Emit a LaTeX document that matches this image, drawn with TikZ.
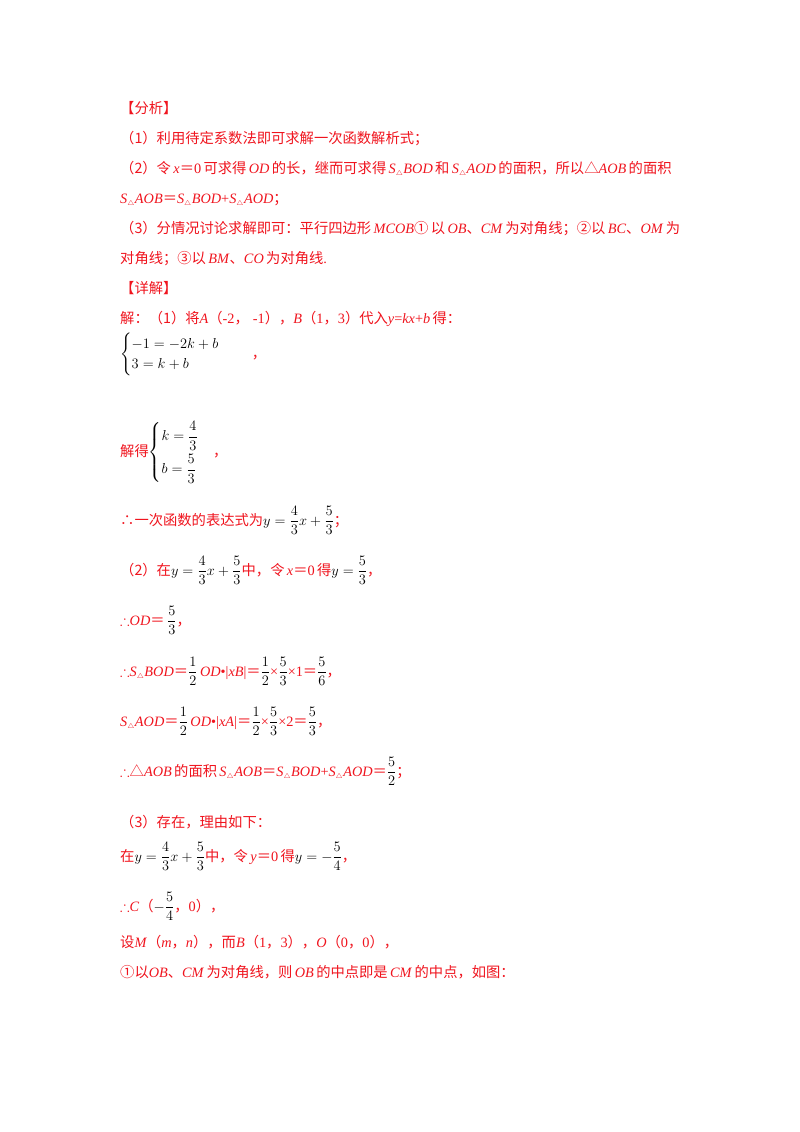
\documentclass[tikz,border=0pt]{standalone}
\usepackage{amsmath,amssymb}
\usepackage{fontspec}
\setmainfont{Liberation Serif}
\newfontfamily\cjk{Noto Sans CJK SC}
\newcommand\C[1]{{\cjk #1}}
\newcommand\I[1]{\textit{#1}}
\newcommand\Tri{$_{\scriptscriptstyle\triangle}$}
\newcommand\M[1]{\textcolor{black}{$#1$}}
\newcommand\EQ{{\cjk ＝}}
\newcommand\TF{$\therefore$}
\definecolor{rd}{RGB}{240,20,30}
\begin{document}
\begin{tikzpicture}[x=1pt,y=-1pt,
  ln/.style={anchor=base west,inner sep=0pt,text=rd,font=\fontsize{14.3}{17}\selectfont}]
\useasboundingbox (0,0) rectangle (800,1132);
\fill[white] (0,0) rectangle (800,1132);
\node[ln] (a1) at (120,113) {\C{【分析】}};
\node[ln] (a2) at (120,143) {\C{（1）利用待定系数法即可求解一次函数解析式；}};
\node[ln] (a3) at (120,173) {\C{（2）令}\,\I{x}\EQ0\,\C{可求得}\,\I{OD}\,\C{的长，继而可求得}\,\I{S}\Tri\I{BOD}\,\C{和}\,\I{S}\Tri\I{AOD}\,\C{的面积，所以△}\I{AOB}\,\C{的面积}};
\node[ln] (a4) at (120,203) {\I{S}\Tri\I{AOB}\EQ\I{S}\Tri\I{BOD}+\I{S}\Tri\I{AOD}\C{；}};
\node[ln] (a5) at (120,233) {\C{（3）分情况讨论求解即可：平行四边形}\,\I{MCOB}\C{①}\,\C{以}\,\I{OB}\C{、}\I{CM}\,\C{为对角线；②以}\,\I{BC}\C{、}\I{OM}\,\C{为}};
\node[ln] (a6) at (120,263) {\C{对角线；③以}\,\I{BM}\C{、}\I{CO}\,\C{为对角线}.};
\node[ln] (b1) at (120,293) {\C{【详解】}};
\node[ln] (b2) at (120,323) {\C{解：（1）将}\I{A}\C{（}-2\C{，}\;-1\C{），}\I{B}\C{（}1\C{，}3\C{）代入}\I{y}=\I{kx}+\I{b}\,\C{得：}};
\node[ln] (b3) at (120,358) {\M{\begin{cases}-1=-2k+b\\3=k+b\end{cases}}\hspace{18pt}\C{，}};
\node[ln] (b4) at (120,456) {\C{解得}\M{\begin{cases}k=\dfrac43\\[8pt] b=\dfrac53\end{cases}}\C{，}};
\node[ln] (b5) at (120,525) {\C{∴一次函数的表达式为}\M{y=\dfrac43x+\dfrac53}\C{；}};
\node[ln] (b6) at (120,575) {\C{（2）在}\M{y=\dfrac43x+\dfrac53}\C{中，令}\,\I{x}\EQ0\,\C{得}\M{y=\dfrac53}\C{，}};
\node[ln] (b7) at (120,625) {\TF\I{OD}\EQ\,\M{\dfrac53}\C{，}};
\node[ln] (b8) at (120,676) {\TF\I{S}\Tri\I{BOD}\EQ\M{\dfrac12}\,\I{OD}•|\I{xB}|\EQ\M{\dfrac12}×\M{\dfrac53}×1\EQ\M{\dfrac56}\C{，}};
\node[ln] (b9) at (120,726) {\I{S}\Tri\I{AOD}\EQ\M{\dfrac12}\,\I{OD}•|\I{xA}|\EQ\M{\dfrac12}×\M{\dfrac53}×2\EQ\M{\dfrac53}\C{，}};
\node[ln] (b10) at (120,776) {\TF\C{△}\I{AOB}\,\C{的面积}\,\I{S}\Tri\I{AOB}\EQ\I{S}\Tri\I{BOD}+\I{S}\Tri\I{AOD}\EQ\M{\dfrac52}\C{；}};
\node[ln] (c1) at (120,827) {\C{（3）存在，理由如下：}};
\node[ln] (c2) at (120,861) {\C{在}\M{y=\dfrac43x+\dfrac53}\C{中，令}\,\I{y}\EQ0\,\C{得}\M{y=-\dfrac54}\C{，}};
\node[ln] (c3) at (120,911) {\TF\I{C}\C{（}\M{-\dfrac54}\C{，}0\C{），}};
\node[ln] (c4) at (120,947) {\C{设}\I{M}\C{（}\I{m}\C{，}\I{n}\C{），而}\I{B}\C{（}1\C{，}3\C{），}\I{O}\C{（}0\C{，}0\C{），}};
\node[ln] (c5) at (120,977) {\C{①以}\I{OB}\C{、}\I{CM}\,\C{为对角线，则}\,\I{OB}\,\C{的中点即是}\,\I{CM}\,\C{的中点，如图：}};
\end{tikzpicture}
\end{document}
